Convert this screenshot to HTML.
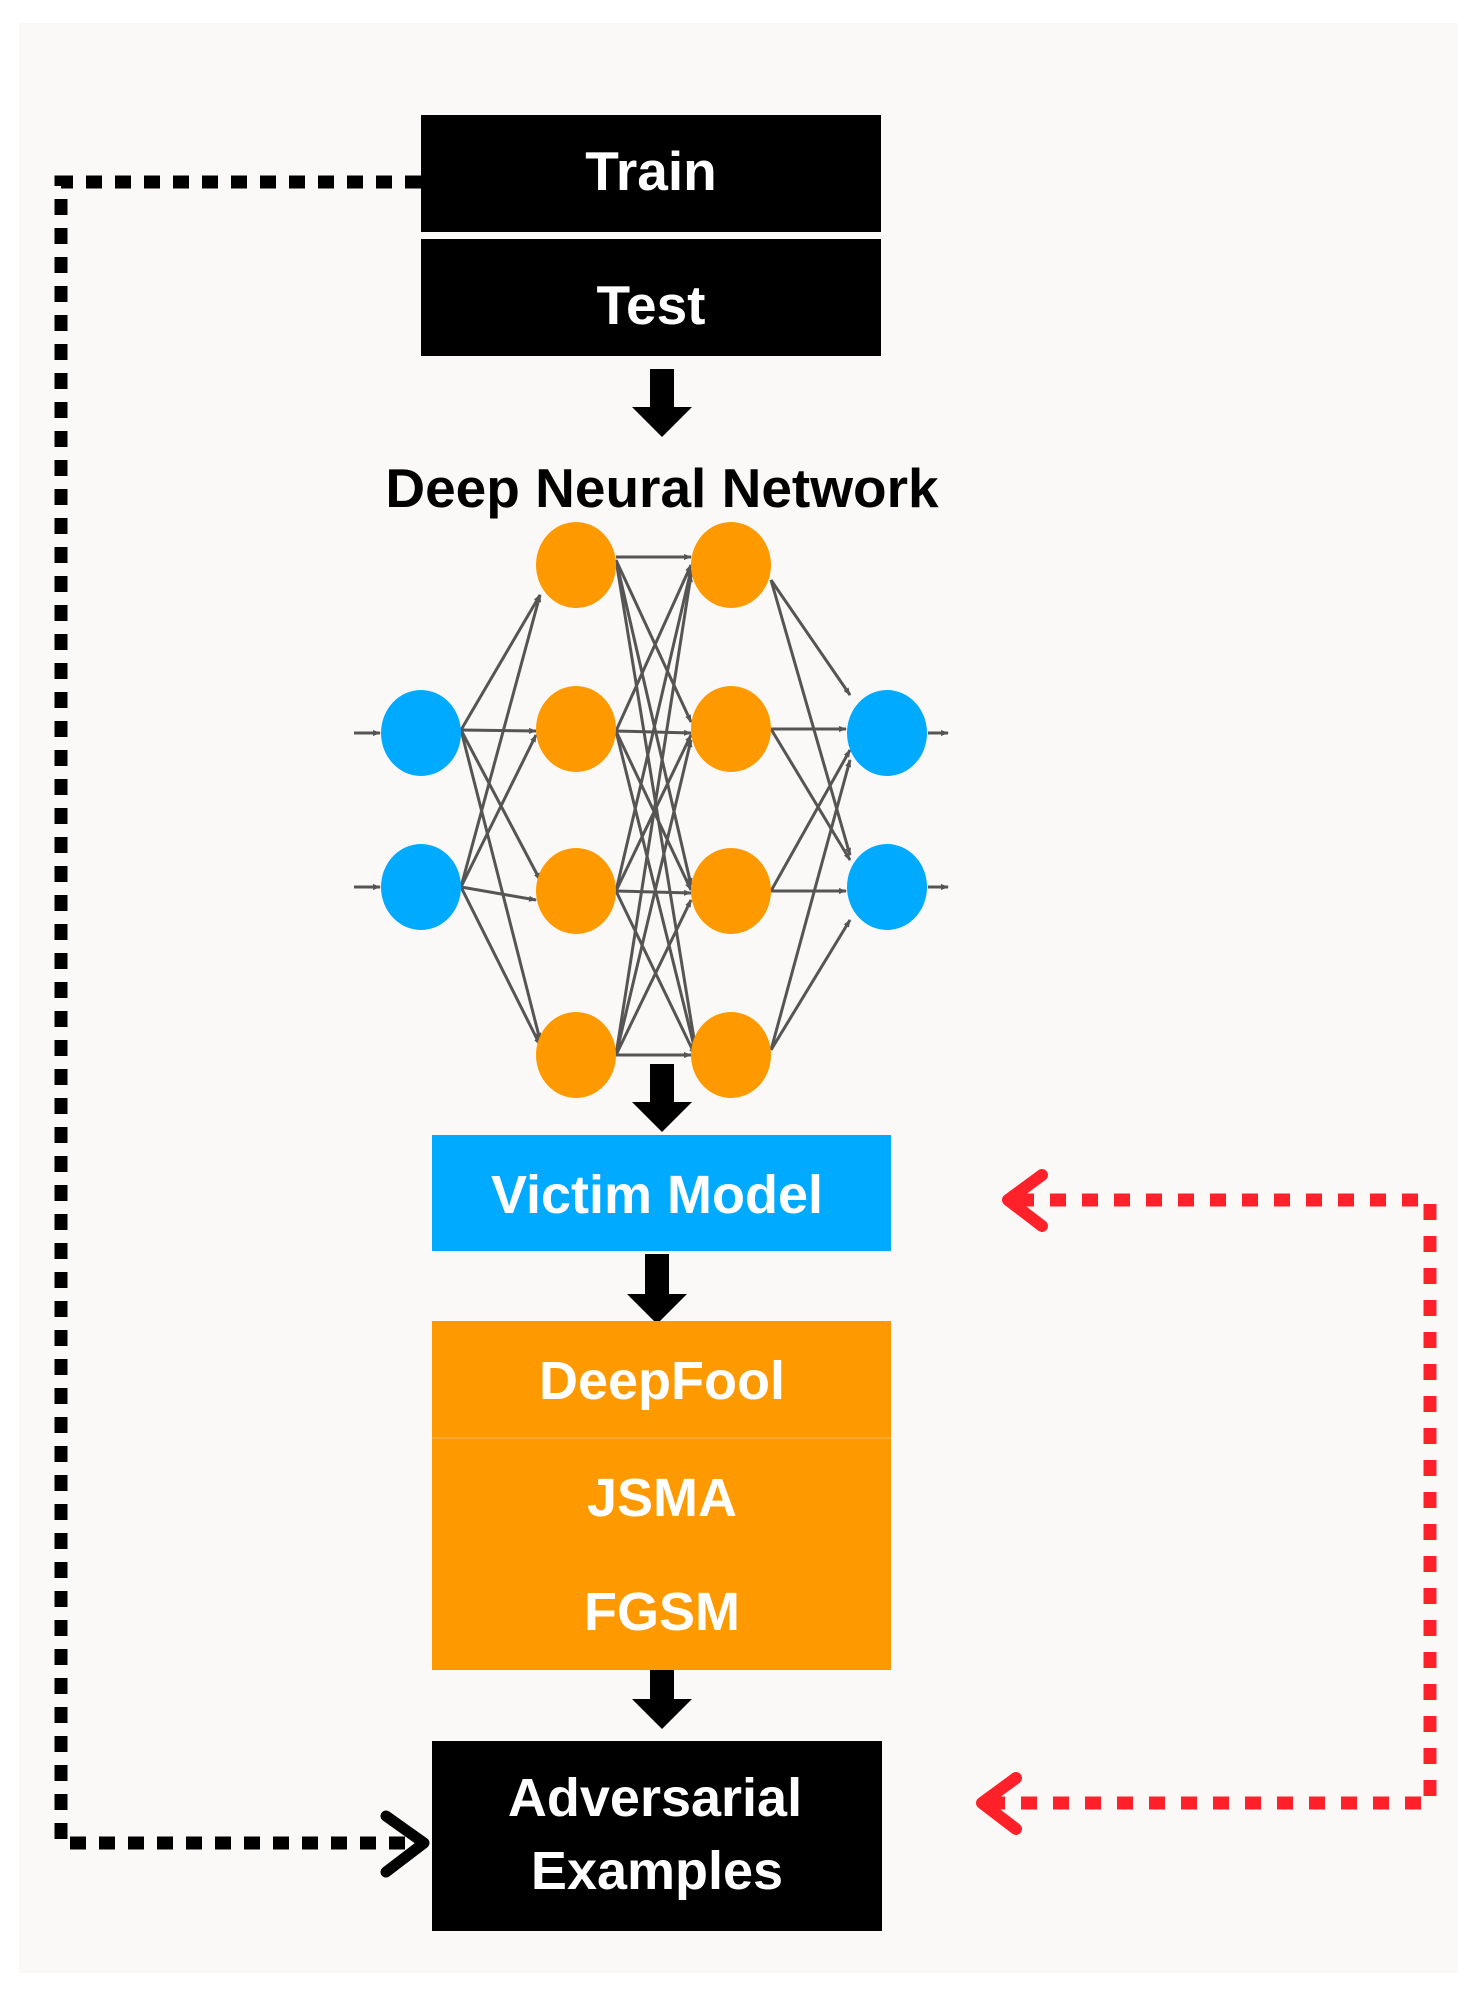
<!DOCTYPE html>
<html><head><meta charset="utf-8"><style>
html,body{margin:0;padding:0;background:#fff;}
svg{display:block}
text{font-family:"Liberation Sans",sans-serif;font-weight:bold;text-anchor:middle;}
</style></head><body>
<svg width="1477" height="2001" viewBox="0 0 1477 2001" xmlns="http://www.w3.org/2000/svg">
<defs>
<marker id="ar" markerWidth="8" markerHeight="8" refX="7" refY="4" orient="auto" markerUnits="userSpaceOnUse"><path d="M0,1 L8,4 L0,7 z" fill="#555"/></marker>
</defs>
<rect x="19" y="23" width="1439" height="1950" fill="#fbf9f7"/>

<path d="M421,182 H61 V1843 H410" fill="none" stroke="#000" stroke-width="13" stroke-dasharray="16,13"/>
<path d="M386,1816 L424,1843 L386,1872" fill="none" stroke="#000" stroke-width="11" stroke-linecap="round" stroke-linejoin="round"/>

<path d="M1018,1200 H1430 V1803 H992" fill="none" stroke="#ff2129" stroke-width="13" stroke-dasharray="16,16"/>
<path d="M1042,1175 L1008,1200 L1042,1226" fill="none" stroke="#ff2129" stroke-width="12" stroke-linecap="round" stroke-linejoin="round"/>
<path d="M1016,1778 L982,1803 L1016,1829" fill="none" stroke="#ff2129" stroke-width="12" stroke-linecap="round" stroke-linejoin="round"/>

<rect x="421" y="115" width="460" height="117" fill="#000"/>
<rect x="421" y="239" width="460" height="117" fill="#000"/>
<text x="651" y="190" font-size="55" fill="#fff">Train</text>
<text x="651" y="324" font-size="55" fill="#fff">Test</text>

<g fill="#000">
<path d="M650,369 h24 v38 h18 l-30,30 l-30,-30 h18 z"/>
<path d="M650,1064 h24 v38 h18 l-30,30 l-30,-30 h18 z"/>
<path d="M645,1254 h24 v40 h18 l-30,30 l-30,-30 h18 z"/>
<path d="M650,1659 h24 v40 h18 l-30,30 l-30,-30 h18 z"/>
</g>

<text x="662" y="507" font-size="55" fill="#000">Deep Neural Network</text>

<g stroke="#555" stroke-width="3" marker-end="url(#ar)" fill="none">
<line x1="354" y1="733" x2="380" y2="733"/>
<line x1="354" y1="887" x2="380" y2="887"/>
<line x1="928" y1="733" x2="948" y2="733"/>
<line x1="928" y1="887" x2="948" y2="887"/>
<line x1="461" y1="730" x2="540" y2="595"/>
<line x1="461" y1="730" x2="536" y2="731"/>
<line x1="461" y1="730" x2="540" y2="880"/>
<line x1="461" y1="730" x2="540" y2="1040"/>
<line x1="461" y1="887" x2="540" y2="595"/>
<line x1="461" y1="887" x2="536" y2="735"/>
<line x1="461" y1="887" x2="536" y2="900"/>
<line x1="461" y1="887" x2="540" y2="1045"/>
<line x1="616" y1="557" x2="691" y2="557"/>
<line x1="616" y1="560" x2="691" y2="722"/>
<line x1="616" y1="560" x2="691" y2="885"/>
<line x1="616" y1="560" x2="695" y2="1045"/>
<line x1="616" y1="731" x2="691" y2="565"/>
<line x1="616" y1="731" x2="691" y2="733"/>
<line x1="616" y1="731" x2="691" y2="890"/>
<line x1="616" y1="731" x2="695" y2="1050"/>
<line x1="616" y1="891" x2="691" y2="570"/>
<line x1="616" y1="891" x2="691" y2="735"/>
<line x1="616" y1="891" x2="691" y2="893"/>
<line x1="616" y1="891" x2="695" y2="1055"/>
<line x1="616" y1="1055" x2="691" y2="575"/>
<line x1="616" y1="1055" x2="691" y2="740"/>
<line x1="616" y1="1055" x2="691" y2="900"/>
<line x1="616" y1="1055" x2="691" y2="1055"/>
<line x1="771" y1="580" x2="850" y2="695"/>
<line x1="771" y1="580" x2="850" y2="855"/>
<line x1="771" y1="729" x2="846" y2="729"/>
<line x1="771" y1="729" x2="850" y2="860"/>
<line x1="771" y1="891" x2="850" y2="750"/>
<line x1="771" y1="891" x2="846" y2="891"/>
<line x1="771" y1="1050" x2="850" y2="760"/>
<line x1="771" y1="1050" x2="850" y2="920"/>
</g>
<g fill="#ff9900">
<ellipse cx="576" cy="565" rx="40" ry="43"/>
<ellipse cx="576" cy="729" rx="40" ry="43"/>
<ellipse cx="576" cy="891" rx="40" ry="43"/>
<ellipse cx="576" cy="1055" rx="40" ry="43"/>
<ellipse cx="731" cy="565" rx="40" ry="43"/>
<ellipse cx="731" cy="729" rx="40" ry="43"/>
<ellipse cx="731" cy="891" rx="40" ry="43"/>
<ellipse cx="731" cy="1055" rx="40" ry="43"/>
</g>
<g fill="#00aaff">
<ellipse cx="421" cy="733" rx="40" ry="43"/>
<ellipse cx="421" cy="887" rx="40" ry="43"/>
<ellipse cx="887" cy="733" rx="40" ry="43"/>
<ellipse cx="887" cy="887" rx="40" ry="43"/>
</g>

<rect x="432" y="1135" width="459" height="116" fill="#00aaff"/>
<text x="657" y="1213" font-size="54" fill="#fff">Victim Model</text>

<rect x="432" y="1321" width="459" height="349" fill="#ff9900"/>
<line x1="432" y1="1438" x2="891" y2="1438" stroke="#f7a830" stroke-width="2"/>
<text x="662" y="1399" font-size="54" fill="#fff">DeepFool</text>
<text x="662" y="1516" font-size="54" fill="#fff">JSMA</text>
<text x="662" y="1630" font-size="54" fill="#fff">FGSM</text>

<rect x="432" y="1741" width="450" height="190" fill="#000"/>
<text x="655" y="1816" font-size="54" fill="#fff">Adversarial</text>
<text x="657" y="1889" font-size="54" fill="#fff">Examples</text>
</svg>
</body></html>
